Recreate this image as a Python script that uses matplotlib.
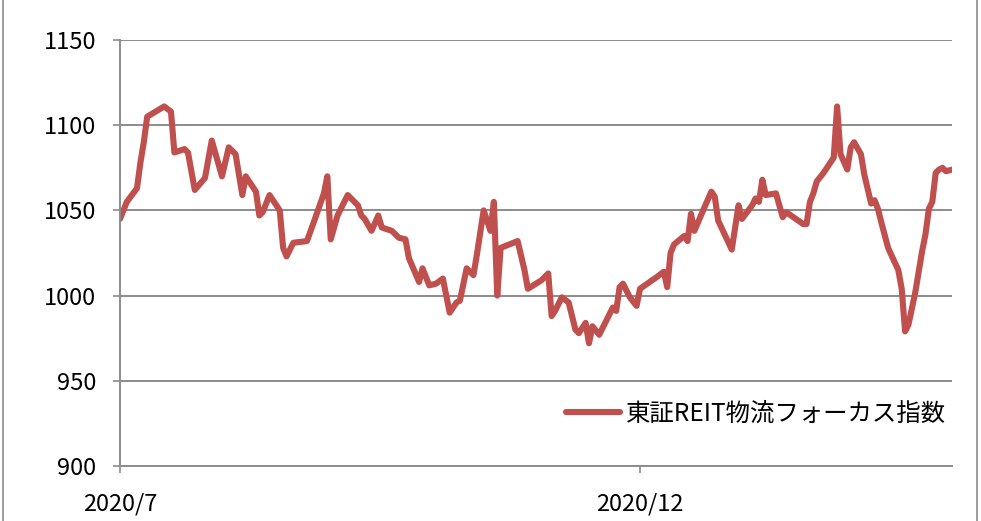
import pandas as pd
import matplotlib
matplotlib.use("Agg")
import matplotlib.pyplot as plt
from matplotlib.lines import Line2D

plt.rcParams['font.family'] = ['Noto Sans CJK JP', 'DejaVu Sans']

# 東証REIT物流フォーカス指数
dates = [
    "2020-07-01", "2020-07-03", "2020-07-06", "2020-07-07", "2020-07-08", "2020-07-09",
    "2020-07-14", "2020-07-16", "2020-07-17", "2020-07-20", "2020-07-21", "2020-07-23",
    "2020-07-26", "2020-07-28", "2020-07-31", "2020-08-02", "2020-08-04", "2020-08-06",
    "2020-08-07", "2020-08-10", "2020-08-11", "2020-08-12", "2020-08-14", "2020-08-17",
    "2020-08-18", "2020-08-19", "2020-08-21", "2020-08-25", "2020-08-27", "2020-08-30",
    "2020-08-31", "2020-09-01", "2020-09-03", "2020-09-06", "2020-09-09", "2020-09-10",
    "2020-09-11", "2020-09-13", "2020-09-15", "2020-09-16", "2020-09-19", "2020-09-21",
    "2020-09-23", "2020-09-24", "2020-09-27", "2020-09-28", "2020-09-30", "2020-10-02",
    "2020-10-04", "2020-10-06", "2020-10-08", "2020-10-09", "2020-10-11", "2020-10-13",
    "2020-10-14", "2020-10-16", "2020-10-18", "2020-10-19", "2020-10-20", "2020-10-21",
    "2020-10-26", "2020-10-28", "2020-10-29", "2020-11-02", "2020-11-04", "2020-11-05",
    "2020-11-06", "2020-11-08", "2020-11-10", "2020-11-12", "2020-11-13", "2020-11-15",
    "2020-11-16", "2020-11-17", "2020-11-19", "2020-11-23", "2020-11-24", "2020-11-25",
    "2020-11-26", "2020-11-28", "2020-11-30", "2020-12-01", "2020-12-06", "2020-12-08",
    "2020-12-09", "2020-12-10", "2020-12-11", "2020-12-14", "2020-12-15", "2020-12-16",
    "2020-12-17", "2020-12-20", "2020-12-22", "2020-12-23", "2020-12-24", "2020-12-28",
    "2020-12-30", "2020-12-31", "2021-01-03", "2021-01-04", "2021-01-05", "2021-01-06",
    "2021-01-07", "2021-01-10", "2021-01-12", "2021-01-13", "2021-01-18", "2021-01-19",
    "2021-01-20", "2021-01-21", "2021-01-22", "2021-01-24", "2021-01-27", "2021-01-28",
    "2021-01-29", "2021-01-31", "2021-02-01", "2021-02-02", "2021-02-04", "2021-02-05",
    "2021-02-07", "2021-02-08", "2021-02-09", "2021-02-10", "2021-02-12", "2021-02-15",
    "2021-02-16", "2021-02-17", "2021-02-18", "2021-02-20", "2021-02-22", "2021-02-23",
    "2021-02-24", "2021-02-25", "2021-02-26", "2021-02-27", "2021-02-28", "2021-03-01",
    "2021-03-03",
]
values = [
    1045, 1055, 1063, 1078, 1090, 1105,
    1111, 1108, 1084, 1086, 1084, 1062,
    1069, 1091, 1070, 1087, 1083, 1059,
    1070, 1061, 1047, 1049, 1059, 1050,
    1028, 1023, 1031, 1032, 1043, 1060,
    1070, 1033, 1047, 1059, 1053, 1047,
    1045, 1038, 1047, 1040, 1038, 1034,
    1033, 1022, 1008, 1016, 1006, 1007,
    1010, 990, 996, 997, 1016, 1012,
    1024, 1050, 1038, 1055, 1000, 1028,
    1032, 1015, 1004, 1009, 1013, 988,
    991, 999, 996, 980, 978, 984,
    972, 982, 977, 993, 991, 1005,
    1007, 999, 994, 1004, 1011, 1014,
    1005, 1025, 1030, 1035, 1032, 1048,
    1038, 1052, 1061, 1058, 1044, 1027,
    1053, 1045, 1053, 1057, 1055, 1068,
    1059, 1060, 1046, 1049, 1042, 1042,
    1055, 1060, 1067, 1072, 1081, 1111,
    1083, 1074, 1087, 1090, 1083, 1071,
    1054, 1056, 1051, 1043, 1028, 1015,
    1004, 979, 983, 1002, 1026, 1036,
    1051, 1055, 1072, 1074, 1075, 1073,
    1074,
]
series_name = "東証REIT物流フォーカス指数"
xtick_dates = ["2020-07-01", "2020-12-01"]
xtick_labels = ["2020/7", "2020/12"]
yticks = [900, 950, 1000, 1050, 1100, 1150]

W, H = 981, 521
fig = plt.figure(figsize=(W / 100, H / 100), dpi=100)
ax = fig.add_axes([120 / W, (H - 466) / H, (952 - 120) / W, (466 - 40) / H])

red = "#C0504D"
grey = "#8C8C8C"

x = pd.to_datetime(dates)
ax.plot(x, values, color=red, lw=4.4, solid_joinstyle="round", solid_capstyle="round")

ax.set_ylim(900, 1150)
ax.set_yticks(yticks)
ax.set_xlim(pd.Timestamp("2020-07-01"), pd.Timestamp("2020-07-01") + pd.Timedelta(days=244.8))
ax.set_xticks(pd.to_datetime(xtick_dates))
ax.set_xticklabels(xtick_labels)

ax.grid(axis="y", color=grey, lw=1.4)
ax.set_axisbelow(True)
for s in ["top", "right"]:
    ax.spines[s].set_visible(False)
for s in ["left", "bottom"]:
    ax.spines[s].set_color(grey)
    ax.spines[s].set_linewidth(1.4)

ax.tick_params(axis="both", colors=grey, labelcolor="black", labelsize=17,
               length=5, width=1.2, direction="out")
ax.tick_params(axis="y", pad=12)
ax.tick_params(axis="x", pad=14)

handle = Line2D([], [], color=red, lw=4.4, solid_capstyle="round")
ax.legend([handle], [series_name], loc="center left",
          bbox_to_anchor=(566 / W, (H - 414) / H), bbox_transform=fig.transFigure,
          frameon=False, fontsize=17.6, borderpad=0, borderaxespad=0,
          handlelength=2.2, handletextpad=0.25)

# outer chart-area border
fig.add_artist(Line2D([3 / W, 3 / W], [0, 1], transform=fig.transFigure, color=grey, lw=1.2))
fig.add_artist(Line2D([977 / W, 977 / W], [0, 1], transform=fig.transFigure, color=grey, lw=1.2))

fig.savefig("out.png", dpi=100)
